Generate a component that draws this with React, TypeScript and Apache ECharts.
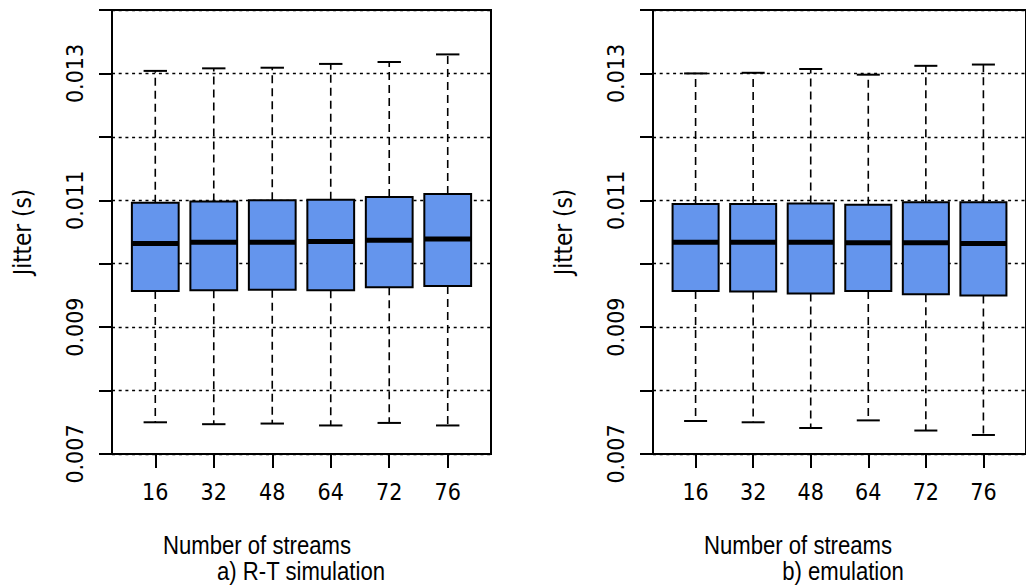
import React, { useEffect, useRef } from "react";
import * as echarts from "echarts";

// Categories (number of streams)
const categories = ["16", "32", "48", "64", "72", "76"];
const yTickLabels = [0.007, 0.009, 0.011, 0.013];

// Panel a) R-T simulation
const simLower = [0.0075, 0.00747, 0.00748, 0.00745, 0.00749, 0.00745];
const simQ1 = [0.00957, 0.00958, 0.00959, 0.00958, 0.00963, 0.00965];
const simMedian = [0.01032, 0.01034, 0.01034, 0.01035, 0.01037, 0.01039];
const simQ3 = [0.01096, 0.01098, 0.011, 0.01101, 0.01105, 0.0111];
const simUpper = [0.01304, 0.01308, 0.01309, 0.01315, 0.01318, 0.0133];

// Panel b) emulation
const emuLower = [0.00752, 0.0075, 0.00741, 0.00753, 0.00737, 0.0073];
const emuQ1 = [0.00957, 0.00956, 0.00953, 0.00957, 0.00952, 0.0095];
const emuMedian = [0.01034, 0.01034, 0.01034, 0.01033, 0.01033, 0.01032];
const emuQ3 = [0.01094, 0.01094, 0.01095, 0.01093, 0.01097, 0.01097];
const emuUpper = [0.013, 0.01301, 0.01307, 0.01298, 0.01312, 0.01314];

const AXIS_FONT = "'DejaVu Sans Condensed', 'Liberation Sans', sans-serif";
const TITLE_FONT = "'Liberation Sans', Arial, sans-serif";
const FILL = "#6495ED";

function buildData(lo: number[], q1: number[], med: number[], q3: number[], hi: number[]) {
  return categories.map((_, i) => [i + 1, lo[i], q1[i], med[i], q3[i], hi[i]]);
}

function renderBox(params: any, api: any) {
  const x = api.value(0);
  const lo = api.value(1);
  const q1 = api.value(2);
  const med = api.value(3);
  const q3 = api.value(4);
  const hi = api.value(5);
  const half = api.size([0.4, 0])[0];
  const capHalf = api.size([0.2, 0])[0];
  const pLo = api.coord([x, lo]);
  const pQ1 = api.coord([x, q1]);
  const pMed = api.coord([x, med]);
  const pQ3 = api.coord([x, q3]);
  const pHi = api.coord([x, hi]);
  const cx = pMed[0];
  const whiskerStyle = { stroke: "#000", lineWidth: 1.6, lineDash: [8, 5], fill: null };
  const solid = { stroke: "#000", lineWidth: 2, fill: null };
  return {
    type: "group",
    children: [
      { type: "line", shape: { x1: cx, y1: pQ3[1], x2: cx, y2: pHi[1] }, style: whiskerStyle },
      { type: "line", shape: { x1: cx, y1: pQ1[1], x2: cx, y2: pLo[1] }, style: whiskerStyle },
      { type: "line", shape: { x1: cx - capHalf, y1: pHi[1], x2: cx + capHalf, y2: pHi[1] }, style: solid },
      { type: "line", shape: { x1: cx - capHalf, y1: pLo[1], x2: cx + capHalf, y2: pLo[1] }, style: solid },
      {
        type: "rect",
        shape: { x: cx - half, y: pQ3[1], width: half * 2, height: pQ1[1] - pQ3[1] },
        style: { fill: FILL, stroke: "#000", lineWidth: 2 },
      },
      { type: "line", shape: { x1: cx - half, y1: pMed[1], x2: cx + half, y2: pMed[1] }, style: { stroke: "#000", lineWidth: 5 } },
    ],
  };
}

function xAxisFor(idx: number) {
  return {
    type: "value",
    gridIndex: idx,
    min: 0.26,
    max: 6.74,
    axisLine: { show: true, lineStyle: { color: "#000", width: 2 } },
    axisTick: {
      show: true,
      length: 14,
      inside: false,
      customValues: categories.map((_, i) => i + 1),
      lineStyle: { color: "#000", width: 2 },
    },
    axisLabel: {
      show: true,
      customValues: categories.map((_, i) => i + 1),
      formatter: (v: number) => categories[Math.round(v) - 1] ?? "",
      margin: 26,
      fontSize: 23,
      fontFamily: AXIS_FONT,
      color: "#000",
    },
    splitLine: { show: false },
  };
}

function yAxisFor(idx: number) {
  return {
    type: "value",
    gridIndex: idx,
    min: 0.007,
    max: 0.014,
    interval: 0.001,
    name: "Jitter (s)",
    nameLocation: "middle",
    nameRotate: 90,
    nameGap: 77,
    nameTextStyle: { fontSize: 24, fontFamily: AXIS_FONT, color: "#000" },
    axisLine: { show: true, lineStyle: { color: "#000", width: 2 } },
    axisTick: { show: true, length: 13, inside: false, lineStyle: { color: "#000", width: 2 } },
    axisLabel: {
      show: true,
      rotate: 90,
      margin: 26,
      customValues: yTickLabels,
      formatter: (v: number) => v.toFixed(3),
      fontSize: 23,
      fontFamily: AXIS_FONT,
      color: "#000",
    },
    splitLine: { show: true, lineStyle: { color: "#000", width: 1.3, type: [3, 3.7] } },
  };
}

export default function App() {
  const ref = useRef<HTMLDivElement>(null);
  useEffect(() => {
    if (!ref.current) return;
    const chart = echarts.init(ref.current, null, { renderer: "svg" });
    const titleText = (text: string, x: number, y: number) => ({
      type: "text",
      x,
      y,
      scaleX: 0.885,
      style: { text, fontSize: 25, fontFamily: TITLE_FONT, fill: "#000", align: "center", verticalAlign: "middle" },
    });
    chart.setOption({
      animation: false,
      backgroundColor: "#fff",
      grid: [
        { left: 112, top: 10, width: 379, height: 444, show: true, borderColor: "#000", borderWidth: 2, backgroundColor: "transparent" },
        { left: 653, top: 10, width: 379, height: 444, show: true, borderColor: "#000", borderWidth: 2, backgroundColor: "transparent" },
      ],
      xAxis: [xAxisFor(0), xAxisFor(1)],
      yAxis: [yAxisFor(0), yAxisFor(1)],
      series: [
        {
          type: "custom",
          xAxisIndex: 0,
          yAxisIndex: 0,
          renderItem: renderBox,
          encode: { x: 0, y: [1, 2, 3, 4, 5] },
          data: buildData(simLower, simQ1, simMedian, simQ3, simUpper),
          z: 5,
        },
        {
          type: "custom",
          xAxisIndex: 1,
          yAxisIndex: 1,
          renderItem: renderBox,
          encode: { x: 0, y: [1, 2, 3, 4, 5] },
          data: buildData(emuLower, emuQ1, emuMedian, emuQ3, emuUpper),
          z: 5,
        },
      ],
      graphic: [
        titleText("Number of streams", 257, 546),
        titleText("a) R-T simulation", 301, 572),
        titleText("Number of streams", 798, 546),
        titleText("b) emulation", 843, 572),
      ],
    });
    return () => chart.dispose();
  }, []);
  return <div ref={ref} style={{ position: "absolute", left: 0, top: 0, width: 1026, height: 586 }} />;
}
